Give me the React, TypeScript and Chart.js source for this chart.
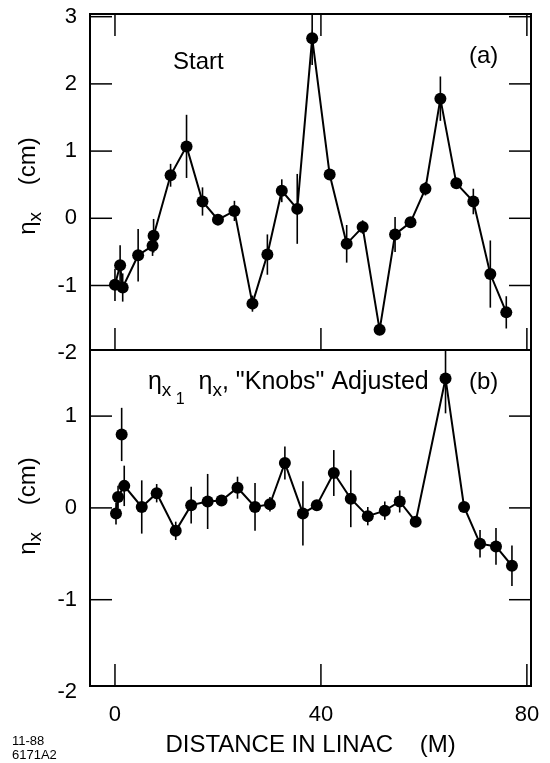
import React, { useEffect, useRef } from "react";
import { Chart, registerables } from "chart.js";

Chart.register(...registerables);

const FONT = '"Liberation Sans", Arial, Helvetica, sans-serif';

// Panel (a): "Start"
const topX = [0, 1, 1.5, 4.5, 7.3, 7.5, 10.8, 13.9, 17, 20, 23.2, 26.7, 29.6, 32.4, 35.4, 38.3, 41.7, 45, 48.1, 51.4, 54.4, 57.4, 60.3, 63.2, 66.3, 69.6, 72.9, 76];
const topY = [-0.99, -0.7, -1.03, -0.55, -0.41, -0.26, 0.64, 1.07, 0.25, -0.02, 0.11, -1.27, -0.54, 0.41, 0.14, 2.68, 0.65, -0.38, -0.13, -1.66, -0.24, -0.06, 0.44, 1.78, 0.52, 0.25, -0.83, -1.4];
const topErr = [0.24, 0.3, 0.21, 0.39, 0.15, 0.25, 0.17, 0.47, 0.21, 0.04, 0.15, 0.12, 0.3, 0.17, 0.52, 0.4, 0.04, 0.28, 0.1, 0.04, 0.26, 0.04, 0.1, 0.33, 0.04, 0.19, 0.5, 0.24];

// Panel (b): "Knobs" adjusted
const botX = [0.2, 0.6, 1.8, 5.2, 8.1, 11.8, 14.8, 18, 20.7, 23.8, 27.2, 30.1, 33, 36.5, 39.2, 42.5, 45.8, 49.1, 52.4, 55.3, 58.4, 64.2, 67.8, 70.9, 74, 77.1];
const botY = [-0.06, 0.12, 0.24, 0.01, 0.16, -0.25, 0.03, 0.07, 0.08, 0.22, 0.01, 0.04, 0.49, -0.06, 0.03, 0.38, 0.1, -0.09, -0.03, 0.07, -0.15, 1.41, 0.01, -0.39, -0.42, -0.63];
const botErr = [0.12, 0.12, 0.22, 0.29, 0.1, 0.1, 0.2, 0.3, 0.03, 0.12, 0.26, 0.08, 0.18, 0.35, 0.03, 0.25, 0.31, 0.1, 0.1, 0.12, 0.05, 0.38, 0.03, 0.15, 0.2, 0.22];

// isolated (unconnected) point in panel (b)
const isoX = [1.3];
const isoY = [0.8];
const isoErr = [0.29];

const xTicks = [0, 40, 80];
const topTicks = [-2, -1, 0, 1, 2, 3];
const botTicks = [-2, -1, 0, 1];

const toPts = (xs: number[], ys: number[]) => xs.map((x, i) => ({ x, y: ys[i] }));

const line = (ctx: CanvasRenderingContext2D, x1: number, y1: number, x2: number, y2: number) => {
  ctx.beginPath();
  ctx.moveTo(x1, y1);
  ctx.lineTo(x2, y2);
  ctx.stroke();
};

type Run = { t: string; size: number; dy?: number };
const runsWidth = (ctx: CanvasRenderingContext2D, runs: Run[]) => {
  let w = 0;
  for (const r of runs) {
    ctx.font = `${r.size}px ${FONT}`;
    w += ctx.measureText(r.t).width;
  }
  return w;
};
const drawRuns = (ctx: CanvasRenderingContext2D, x: number, y: number, runs: Run[]) => {
  let cx = x;
  for (const r of runs) {
    ctx.font = `${r.size}px ${FONT}`;
    ctx.fillText(r.t, cx, y + (r.dy || 0));
    cx += ctx.measureText(r.t).width;
  }
};

const errorBars = {
  id: "errorBars",
  afterDatasetsDraw(chart: any) {
    const ctx = chart.ctx;
    const xs = chart.scales.x;
    const { left, right } = chart.chartArea;
    chart.data.datasets.forEach((ds: any) => {
      const ys = chart.scales[ds.yAxisID];
      ctx.save();
      ctx.beginPath();
      ctx.rect(left, ys.top, right - left, ys.bottom - ys.top);
      ctx.clip();
      ctx.strokeStyle = "#000";
      ctx.lineWidth = 1.6;
      ds.data.forEach((p: any, j: number) => {
        const e = ds.errs[j];
        const px = xs.getPixelForValue(p.x);
        line(ctx, px, ys.getPixelForValue(p.y - e), px, ys.getPixelForValue(p.y + e));
      });
      ctx.restore();
    });
  },
};

const frameAndText = {
  id: "frameAndText",
  afterDraw(chart: any) {
    const ctx = chart.ctx;
    const xs = chart.scales.x;
    const yA = chart.scales.yA;
    const yB = chart.scales.yB;
    const { left, right } = chart.chartArea;
    ctx.save();
    ctx.strokeStyle = "#000";
    ctx.fillStyle = "#000";
    // frames
    ctx.lineWidth = 2;
    for (const s of [yA, yB]) ctx.strokeRect(left, s.top, right - left, s.bottom - s.top);
    // inward ticks
    ctx.lineWidth = 1.5;
    const TL = 22;
    const yt: [any, number[]][] = [[yA, topTicks], [yB, botTicks]];
    for (const [s, ticks] of yt) {
      for (const v of ticks) {
        if (v <= s.min || v >= s.max) continue;
        const py = s.getPixelForValue(v);
        line(ctx, left, py, left + TL, py);
        line(ctx, right - TL, py, right, py);
      }
    }
    for (const v of xTicks) {
      const px = xs.getPixelForValue(v);
      line(ctx, px, yA.top, px, yA.top + TL);
      line(ctx, px, yA.bottom - TL, px, yA.bottom);
      line(ctx, px, yB.bottom - TL, px, yB.bottom);
    }
    // panel labels
    ctx.textBaseline = "alphabetic";
    ctx.textAlign = "left";
    drawRuns(ctx, xs.getPixelForValue(11.27), yA.getPixelForValue(2.22), [{ t: "Start", size: 24 }]);
    drawRuns(ctx, xs.getPixelForValue(68.75), yA.getPixelForValue(2.31), [{ t: "(a)", size: 24 }]);
    drawRuns(ctx, xs.getPixelForValue(6.4), yB.getPixelForValue(1.3), [
      { t: "η", size: 25 },
      { t: "x", size: 19, dy: 7 },
      { t: " 1", size: 16, dy: 15 },
      { t: "  η", size: 25 },
      { t: "x", size: 19, dy: 7 },
      { t: ", \"Knobs\" Adjusted", size: 25 },
    ]);
    drawRuns(ctx, xs.getPixelForValue(68.75), yB.getPixelForValue(1.3), [{ t: "(b)", size: 24 }]);
    // y-axis titles
    const title: Run[] = [
      { t: "η", size: 24 },
      { t: "x", size: 19, dy: 6 },
      { t: "    (cm)", size: 24 },
    ];
    const tw = runsWidth(ctx, title);
    for (const [s, cy] of [[yA, (yA.top + yA.bottom) / 2 + 4], [yB, (yB.top + yB.bottom) / 2 - 12]] as [any, number][]) {
      ctx.save();
      ctx.translate(35, cy);
      ctx.rotate(-Math.PI / 2);
      drawRuns(ctx, -tw / 2, 0, title);
      ctx.restore();
    }
    // figure code
    drawRuns(ctx, 12, 745, [{ t: "11-88", size: 13 }]);
    drawRuns(ctx, 12, 759, [{ t: "6171A2", size: 13 }]);
    ctx.restore();
  },
};

const noPad = (axis: any) => {
  axis.paddingTop = 0;
  axis.paddingBottom = 0;
  axis.paddingLeft = 0;
  axis.paddingRight = 0;
};

export default function App() {
  const ref = useRef<HTMLCanvasElement | null>(null);
  useEffect(() => {
    document.body.style.margin = "0";
    const canvas = ref.current;
    if (!canvas) return;
    const tickFont = { family: FONT, size: 22 };
    const chart = new Chart(canvas, {
      type: "scatter",
      data: {
        datasets: [
          {
            data: toPts(topX, topY),
            errs: topErr,
            yAxisID: "yA",
            showLine: true,
            borderColor: "#000",
            borderWidth: 2,
            backgroundColor: "#000",
            pointRadius: 6,
            pointBorderWidth: 0,
          } as any,
          {
            data: toPts(botX, botY),
            errs: botErr,
            yAxisID: "yB",
            showLine: true,
            borderColor: "#000",
            borderWidth: 2,
            backgroundColor: "#000",
            pointRadius: 6,
            pointBorderWidth: 0,
          } as any,
          {
            data: toPts(isoX, isoY),
            errs: isoErr,
            yAxisID: "yB",
            showLine: false,
            borderColor: "#000",
            backgroundColor: "#000",
            pointRadius: 6,
            pointBorderWidth: 0,
          } as any,
        ],
      },
      options: {
        responsive: false,
        animation: false,
        events: [],
        layout: { padding: { left: 0, right: 19, top: 14, bottom: 0 } },
        plugins: { legend: { display: false }, tooltip: { enabled: false } },
        scales: {
          x: {
            type: "linear",
            position: "bottom",
            min: -4.85,
            max: 80.8,
            afterBuildTicks: (axis: any) => {
              axis.ticks = xTicks.map((v) => ({ value: v }));
            },
            afterFit: (axis: any) => {
              axis.height = 77;
              noPad(axis);
            },
            grid: { display: false, drawTicks: false },
            border: { display: false },
            ticks: { font: tickFont, color: "#000", padding: 16, maxRotation: 0, callback: (v: any) => String(v) },
            title: {
              display: true,
              text: "DISTANCE IN LINAC    (M)",
              color: "#000",
              font: { family: FONT, size: 24 },
              padding: { top: 0, bottom: 3 },
            },
          },
          yB: {
            type: "linear",
            position: "left",
            stack: "panels",
            stackWeight: 1,
            min: -1.94,
            max: 1.72,
            afterBuildTicks: (axis: any) => {
              axis.ticks = botTicks.map((v) => ({ value: v }));
            },
            afterFit: (axis: any) => {
              axis.width = 90;
              noPad(axis);
            },
            grid: { display: false, drawTicks: false },
            border: { display: false },
            ticks: { font: tickFont, color: "#000", padding: 13, callback: (v: any) => String(v) },
          },
          yA: {
            type: "linear",
            position: "left",
            stack: "panels",
            stackWeight: 1,
            min: -1.96,
            max: 3.04,
            afterBuildTicks: (axis: any) => {
              axis.ticks = topTicks.map((v) => ({ value: v }));
            },
            afterFit: (axis: any) => {
              axis.width = 90;
              noPad(axis);
            },
            grid: { display: false, drawTicks: false },
            border: { display: false },
            ticks: { font: tickFont, color: "#000", padding: 13, callback: (v: any) => String(v) },
          },
        },
      } as any,
      plugins: [errorBars, frameAndText],
    });
    return () => chart.destroy();
  }, []);
  return (
    <div style={{ width: 550, height: 763 }}>
      <canvas ref={ref} width={550} height={763} style={{ display: "block" }} />
    </div>
  );
}
